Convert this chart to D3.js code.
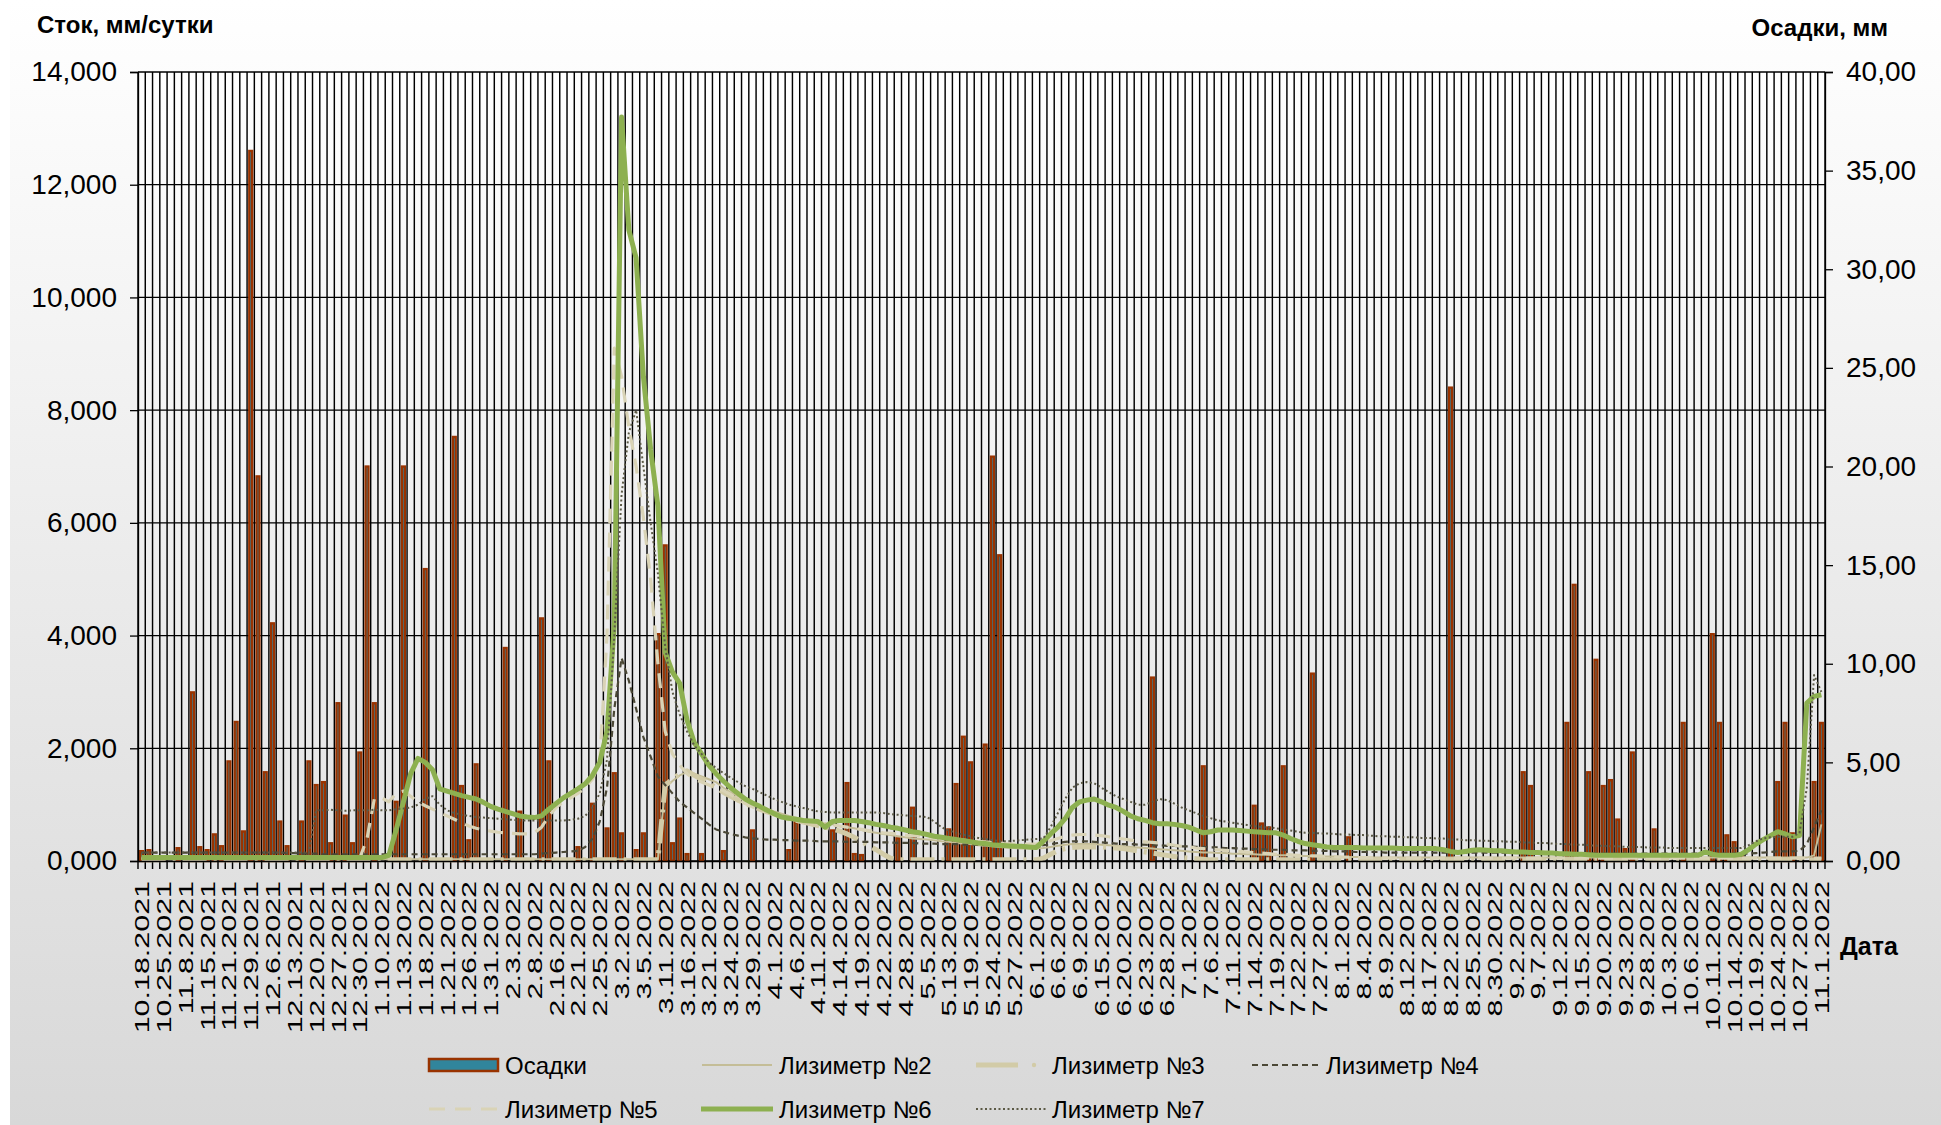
<!DOCTYPE html>
<html><head><meta charset="utf-8">
<script src="https://cdn.jsdelivr.net/npm/d3@7"></script>
<style>
html,body{margin:0;padding:0;background:#fff;}
svg{display:block;}
text{font-family:"Liberation Sans",Arial,sans-serif;fill:#000;}
</style></head><body>
<svg id="chart" width="1941" height="1125"></svg>
<script>
const categories = [
"10.18.2021","10.20.2021","10.22.2021","10.25.2021","10.29.2021","11.3.2021","11.8.2021","11.10.2021","11.12.2021",
"11.15.2021","11.17.2021","11.19.2021","11.21.2021","11.23.2021","11.26.2021","11.29.2021","12.1.2021","12.3.2021",
"12.6.2021","12.8.2021","12.10.2021","12.13.2021","12.15.2021","12.17.2021","12.20.2021","12.22.2021","12.24.2021",
"12.27.2021","12.28.2021","12.29.2021","12.30.2021","1.3.2022","1.6.2022","1.10.2022","1.11.2022","1.12.2022",
"1.13.2022","1.14.2022","1.17.2022","1.18.2022","1.19.2022","1.20.2022","1.21.2022","1.24.2022","1.25.2022",
"1.26.2022","1.27.2022","1.28.2022","1.31.2022","2.1.2022","2.2.2022","2.3.2022","2.4.2022","2.7.2022",
"2.8.2022","2.10.2022","2.14.2022","2.16.2022","2.17.2022","2.18.2022","2.21.2022","2.22.2022","2.24.2022",
"2.25.2022","2.28.2022","3.1.2022","3.2.2022","3.3.2022","3.4.2022","3.5.2022","3.9.2022","3.10.2022",
"3.11.2022","3.14.2022","3.15.2022","3.16.2022","3.17.2022","3.18.2022","3.21.2022","3.22.2022","3.23.2022",
"3.24.2022","3.25.2022","3.28.2022","3.29.2022","3.30.2022","3.31.2022","4.1.2022","4.4.2022","4.5.2022",
"4.6.2022","4.7.2022","4.8.2022","4.11.2022","4.12.2022","4.13.2022","4.14.2022","4.15.2022","4.18.2022",
"4.19.2022","4.20.2022","4.21.2022","4.22.2022","4.25.2022","4.26.2022","4.28.2022","4.29.2022","5.4.2022",
"5.5.2022","5.6.2022","5.11.2022","5.13.2022","5.16.2022","5.17.2022","5.19.2022","5.20.2022","5.23.2022",
"5.24.2022","5.25.2022","5.26.2022","5.27.2022","5.30.2022","5.31.2022","6.1.2022","6.2.2022","6.3.2022",
"6.6.2022","6.7.2022","6.8.2022","6.9.2022","6.10.2022","6.14.2022","6.15.2022","6.16.2022","6.17.2022",
"6.20.2022","6.21.2022","6.22.2022","6.23.2022","6.24.2022","6.27.2022","6.28.2022","6.29.2022","6.30.2022",
"7.1.2022","7.4.2022","7.5.2022","7.6.2022","7.7.2022","7.8.2022","7.11.2022","7.12.2022","7.13.2022",
"7.14.2022","7.15.2022","7.18.2022","7.19.2022","7.20.2022","7.21.2022","7.22.2022","7.25.2022","7.26.2022",
"7.27.2022","7.28.2022","7.29.2022","8.1.2022","8.2.2022","8.3.2022","8.4.2022","8.5.2022","8.8.2022",
"8.9.2022","8.10.2022","8.11.2022","8.12.2022","8.15.2022","8.16.2022","8.17.2022","8.18.2022","8.19.2022",
"8.22.2022","8.23.2022","8.24.2022","8.25.2022","8.26.2022","8.29.2022","8.30.2022","8.31.2022","9.1.2022",
"9.2.2022","9.5.2022","9.6.2022","9.7.2022","9.8.2022","9.9.2022","9.12.2022","9.13.2022","9.14.2022",
"9.15.2022","9.16.2022","9.19.2022","9.20.2022","9.21.2022","9.22.2022","9.23.2022","9.26.2022","9.27.2022",
"9.28.2022","9.29.2022","9.30.2022","10.3.2022","10.4.2022","10.5.2022","10.6.2022","10.7.2022","10.10.2022",
"10.11.2022","10.12.2022","10.13.2022","10.14.2022","10.17.2022","10.18.2022","10.19.2022","10.20.2022","10.21.2022",
"10.24.2022","10.25.2022","10.26.2022","10.27.2022","10.28.2022","10.31.2022","11.1.2022"];

const tickLabels = ["10.18.2021","10.25.2021","11.8.2021","11.15.2021","11.21.2021","11.29.2021","12.6.2021","12.13.2021",
"12.20.2021","12.27.2021","12.30.2021","1.10.2022","1.13.2022","1.18.2022","1.21.2022","1.26.2022","1.31.2022","2.3.2022",
"2.8.2022","2.16.2022","2.21.2022","2.25.2022","3.2.2022","3.5.2022","3.11.2022","3.16.2022","3.21.2022","3.24.2022",
"3.29.2022","4.1.2022","4.6.2022","4.11.2022","4.14.2022","4.19.2022","4.22.2022","4.28.2022","5.5.2022","5.13.2022",
"5.19.2022","5.24.2022","5.27.2022","6.1.2022","6.6.2022","6.9.2022","6.15.2022","6.20.2022","6.23.2022","6.28.2022",
"7.1.2022","7.6.2022","7.11.2022","7.14.2022","7.19.2022","7.22.2022","7.27.2022","8.1.2022","8.4.2022","8.9.2022",
"8.12.2022","8.17.2022","8.22.2022","8.25.2022","8.30.2022","9.2.2022","9.7.2022","9.12.2022","9.15.2022","9.20.2022",
"9.23.2022","9.28.2022","10.3.2022","10.6.2022","10.11.2022","10.14.2022","10.19.2022","10.24.2022","10.27.2022","11.1.2022"];

// Осадки, мм (right axis)
const precip = [
0.5,0.55,0,0,0,0.65,0,8.55,0.7,0.55,
1.35,0.75,5.05,7.05,1.5,36.0,19.5,4.5,12.05,2.0,
0.75,0,2.0,5.05,3.85,4.0,0.9,8.0,2.3,0.9,
5.5,20.0,8.0,0,0,3.0,20.0,0,0,14.8,
0,0,0,21.5,3.8,1.05,4.9,0,0,0,
10.8,0,2.5,0,0,12.3,5.05,0,0,0,
0.7,0,2.9,0,1.65,4.45,1.4,0,0.55,1.4,
0,11.5,16.0,0.9,2.15,0.35,0,0.35,0,0,
0.5,0,0,0,1.55,0,0,0,0,0.55,
1.95,0,0,0,0,1.55,0,3.95,0.35,0.3,
0,0,0,0,1.15,0,2.7,0,0,0,
0,1.6,3.9,6.3,5.0,0,5.9,20.5,15.5,0,
0,0,0,0,0,0,0,0,0,0,
0,0,0,0,0,0,0,0,0,9.3,
0,0,0,0,0,0,4.8,0,0,0,
0,0,0,2.8,1.9,1.7,0,4.8,0,0,
0,9.5,0,0,0,0,1.2,0,0,0,
0,0,0,0,0,0,0,0,0,0,
24.0,0,0,0,0,0,0,0,0,0,
4.5,3.8,0,0,0,0,7.0,14.0,0,4.5,
10.2,3.8,4.1,2.1,0.6,5.5,0,0,1.6,0,
0,0,7.0,0,0,0,11.5,7.0,1.3,0.95,
0.3,0,0,0,0,4.0,7.0,1.4,0,0,
4.0,7.0];

// Сток, мм/сутки (left axis)
const lys2 = [
0.03,0.03,0.03,0.03,0.03,0.03,0.03,0.03,0.03,0.03,
0.03,0.03,0.03,0.03,0.03,0.03,0.03,0.03,0.03,0.03,
0.03,0.03,0.03,0.03,0.03,0.03,0.03,0.03,0.03,0.03,
0.03,0.03,0.03,0.03,0.03,0.03,0.03,0.03,0.03,0.03,
0.03,0.03,0.03,0.03,0.03,0.03,0.03,0.03,0.03,0.03,
0.03,0.03,0.03,0.03,0.03,0.03,0.03,0.03,0.03,0.03,
0.03,0.03,0.03,0.03,0.03,0.03,0.03,0.03,0.03,0.03,
0.03,0.03,1.3,1.42,1.52,1.58,1.55,1.5,1.45,1.4,
1.3,1.22,1.15,1.08,1.02,0.97,0.93,0.88,0.84,0.8,
0.77,0.74,0.71,0.69,0.67,0.65,0.62,0.6,0.58,0.55,
0.52,0.5,0.48,0.46,0.44,0.42,0.4,0.39,0.38,0.37,
0.35,0.34,0.32,0.31,0.3,0.28,0.27,0.26,0.25,0.24,
0.23,0.22,0.22,0.22,0.23,0.25,0.27,0.29,0.3,0.3,
0.3,0.3,0.29,0.28,0.27,0.26,0.25,0.24,0.23,0.22,
0.21,0.2,0.19,0.18,0.17,0.16,0.15,0.15,0.14,0.14,
0.13,0.13,0.12,0.12,0.11,0.11,0.1,0.1,0.1,0.09,
0.09,0.09,0.08,0.08,0.08,0.07,0.07,0.07,0.07,0.06,
0.06,0.06,0.06,0.06,0.06,0.06,0.06,0.06,0.06,0.06,
0.06,0.06,0.06,0.06,0.06,0.06,0.06,0.06,0.06,0.06,
0.06,0.06,0.06,0.06,0.06,0.06,0.06,0.06,0.06,0.06,
0.06,0.06,0.06,0.06,0.06,0.06,0.06,0.06,0.06,0.06,
0.06,0.06,0.06,0.06,0.06,0.06,0.06,0.06,0.06,0.06,
0.06,0.06,0.06,0.06,0.06,0.06,0.06,0.06,0.06,0.06,
0.1,0.65];

const lys3 = [
0.02,0.02,0.02,0.02,0.02,0.02,0.02,0.02,0.02,0.02,
0.02,0.02,0.02,0.02,0.02,0.02,0.02,0.02,0.02,0.02,
0.02,0.02,0.02,0.02,0.02,0.02,0.02,0.02,0.02,0.02,
0.02,0.02,0.02,0.02,0.02,0.02,0.02,0.02,0.02,0.02,
0.02,0.02,0.02,0.02,0.02,0.02,0.02,0.02,0.02,0.02,
0.02,0.02,0.02,0.02,0.02,0.02,0.02,0.02,0.02,0.02,
0.02,0.02,0.02,0.02,0.02,0.02,0.02,0.02,0.02,0.02,
0.02,0.02,1.35,1.45,1.55,1.6,1.52,1.45,1.38,1.3,
1.22,1.15,1.08,1.02,0.97,0.92,0.87,0.83,0.79,0.75,
0.72,0.69,0.66,0.63,0.6,0.57,0.53,0.48,0.42,0.35,
0.27,0.2,0.12,0.05,0.02,0.02,0.02,0.02,0.02,0.02,
0.02,0.02,0.02,0.02,0.02,0.02,0.02,0.02,0.02,0.02,
0.02,0.02,0.02,0.02,0.05,0.12,0.18,0.22,0.24,0.25,
0.25,0.25,0.25,0.24,0.23,0.22,0.2,0.18,0.16,0.14,
0.12,0.1,0.08,0.06,0.05,0.04,0.03,0.02,0.02,0.02,
0.02,0.02,0.02,0.02,0.02,0.02,0.02,0.02,0.02,0.02,
0.02,0.02,0.02,0.02,0.02,0.02,0.02,0.02,0.02,0.02,
0.02,0.02,0.02,0.02,0.02,0.02,0.02,0.02,0.02,0.02,
0.02,0.02,0.02,0.02,0.02,0.02,0.02,0.02,0.02,0.02,
0.02,0.02,0.02,0.02,0.02,0.02,0.02,0.02,0.02,0.02,
0.02,0.02,0.02,0.02,0.02,0.02,0.02,0.02,0.02,0.02,
0.02,0.02,0.02,0.02,0.02,0.02,0.02,0.02,0.02,0.02,
0.02,0.02,0.02,0.02,0.02,0.02,0.02,0.02,0.02,0.02,
0.02,0.02];

const lys4 = [
0.15,0.15,0.15,0.15,0.15,0.15,0.15,0.15,0.15,0.15,
0.15,0.15,0.15,0.15,0.15,0.15,0.15,0.15,0.15,0.15,
0.14,0.14,0.13,0.13,0.13,0.12,0.12,0.12,0.12,0.12,
0.12,0.12,0.12,0.12,0.12,0.12,0.12,0.12,0.12,0.12,
0.12,0.12,0.12,0.12,0.12,0.12,0.12,0.12,0.12,0.12,
0.12,0.12,0.12,0.12,0.12,0.13,0.14,0.15,0.16,0.17,
0.18,0.25,0.4,0.7,1.3,2.7,3.6,3.2,2.7,2.2,
1.85,1.5,1.35,1.2,1.05,0.95,0.85,0.75,0.65,0.56,
0.52,0.48,0.45,0.42,0.4,0.39,0.38,0.38,0.37,0.37,
0.36,0.36,0.36,0.35,0.35,0.35,0.35,0.34,0.34,0.34,
0.34,0.33,0.33,0.33,0.32,0.32,0.32,0.31,0.31,0.31,
0.3,0.3,0.3,0.29,0.29,0.29,0.28,0.28,0.28,0.27,
0.27,0.27,0.27,0.27,0.28,0.3,0.32,0.34,0.35,0.35,
0.35,0.34,0.33,0.32,0.31,0.3,0.3,0.29,0.29,0.28,
0.28,0.27,0.27,0.26,0.26,0.25,0.25,0.24,0.24,0.23,
0.23,0.22,0.22,0.21,0.21,0.2,0.2,0.2,0.19,0.19,
0.19,0.18,0.18,0.18,0.17,0.17,0.17,0.16,0.16,0.16,
0.16,0.15,0.15,0.15,0.15,0.15,0.15,0.15,0.15,0.15,
0.15,0.15,0.15,0.15,0.15,0.15,0.15,0.15,0.15,0.15,
0.14,0.14,0.14,0.14,0.14,0.14,0.14,0.14,0.14,0.14,
0.13,0.13,0.13,0.13,0.13,0.13,0.13,0.13,0.13,0.13,
0.13,0.13,0.13,0.13,0.13,0.13,0.13,0.13,0.13,0.13,
0.13,0.13,0.14,0.15,0.16,0.17,0.17,0.17,0.18,0.3,
0.6,0.9];

const lys5 = [
0.05,0.05,0.05,0.05,0.05,0.05,0.05,0.05,0.05,0.05,
0.05,0.05,0.05,0.05,0.05,0.05,0.05,0.05,0.05,0.05,
0.05,0.05,0.05,0.05,0.05,0.05,0.05,0.05,0.05,0.05,
0.05,0.4,1.1,1.12,1.05,1.2,1.24,1.15,1.05,0.98,
0.92,0.86,0.8,0.74,0.68,0.62,0.58,0.55,0.53,0.51,
0.5,0.49,0.48,0.48,0.5,0.6,0.8,0.95,1.05,1.12,
1.2,1.3,1.45,1.75,4.0,9.1,8.6,7.7,7.0,6.1,
5.0,3.5,2.3,1.9,1.7,1.55,1.45,1.4,1.35,1.3,
1.25,1.18,1.1,1.02,0.96,0.92,0.88,0.84,0.8,0.77,
0.74,0.72,0.7,0.68,0.66,0.64,0.62,0.6,0.58,0.56,
0.54,0.52,0.5,0.49,0.48,0.46,0.45,0.44,0.42,0.41,
0.4,0.39,0.38,0.37,0.36,0.35,0.34,0.33,0.32,0.31,
0.3,0.3,0.3,0.3,0.32,0.36,0.4,0.44,0.46,0.47,
0.47,0.46,0.45,0.43,0.41,0.39,0.37,0.35,0.34,0.33,
0.32,0.3,0.28,0.26,0.25,0.23,0.22,0.21,0.2,0.19,
0.18,0.17,0.16,0.15,0.14,0.13,0.12,0.12,0.11,0.1,
0.1,0.09,0.09,0.08,0.08,0.07,0.07,0.06,0.06,0.06,
0.05,0.05,0.05,0.05,0.05,0.05,0.05,0.05,0.05,0.05,
0.05,0.05,0.05,0.05,0.05,0.05,0.05,0.05,0.05,0.05,
0.05,0.05,0.05,0.05,0.05,0.05,0.05,0.05,0.05,0.05,
0.05,0.05,0.05,0.05,0.05,0.05,0.05,0.05,0.05,0.05,
0.05,0.05,0.05,0.05,0.05,0.05,0.05,0.05,0.05,0.05,
0.05,0.05,0.05,0.05,0.05,0.05,0.05,0.05,0.05,0.05,
0.05,0.05];

const lys6 = [
0.06,0.06,0.06,0.06,0.06,0.06,0.06,0.06,0.06,0.06,
0.06,0.06,0.06,0.06,0.06,0.06,0.06,0.06,0.06,0.06,
0.06,0.06,0.06,0.06,0.06,0.06,0.06,0.06,0.06,0.06,
0.06,0.06,0.06,0.06,0.1,0.55,1.05,1.55,1.82,1.75,
1.62,1.28,1.24,1.2,1.16,1.13,1.1,1.04,0.97,0.92,
0.88,0.84,0.8,0.78,0.77,0.8,0.92,1.02,1.12,1.2,
1.28,1.37,1.52,1.75,2.3,4.2,13.2,11.2,10.7,8.6,
7.3,6.3,3.7,3.35,3.15,2.5,2.1,1.9,1.7,1.55,
1.42,1.3,1.2,1.1,1.03,0.97,0.9,0.84,0.78,0.76,
0.74,0.72,0.71,0.7,0.6,0.7,0.72,0.72,0.72,0.7,
0.68,0.65,0.63,0.6,0.58,0.55,0.52,0.5,0.47,0.44,
0.42,0.4,0.38,0.36,0.34,0.32,0.31,0.29,0.28,0.27,
0.26,0.26,0.25,0.24,0.35,0.48,0.6,0.75,0.95,1.05,
1.08,1.1,1.05,0.99,0.95,0.88,0.8,0.75,0.72,0.68,
0.66,0.66,0.65,0.63,0.6,0.55,0.5,0.52,0.55,0.55,
0.55,0.54,0.53,0.52,0.51,0.5,0.5,0.46,0.4,0.35,
0.31,0.29,0.27,0.25,0.24,0.24,0.24,0.24,0.23,0.23,
0.23,0.23,0.23,0.22,0.22,0.22,0.22,0.22,0.22,0.2,
0.17,0.15,0.17,0.19,0.2,0.19,0.18,0.18,0.17,0.16,
0.16,0.15,0.15,0.14,0.14,0.13,0.13,0.12,0.12,0.11,
0.1,0.1,0.1,0.1,0.1,0.1,0.1,0.1,0.1,0.1,
0.1,0.1,0.1,0.1,0.1,0.16,0.12,0.1,0.1,0.1,
0.12,0.2,0.3,0.38,0.45,0.52,0.48,0.43,0.45,2.8,
2.92,2.95];

const lys7 = [
0.15,0.15,0.15,0.15,0.15,0.15,0.15,0.15,0.15,0.15,
0.15,0.15,0.15,0.15,0.15,0.15,0.15,0.15,0.15,0.15,
0.15,0.15,0.15,0.15,0.9,0.9,0.91,0.9,0.89,0.9,
0.9,0.9,0.91,0.9,0.9,0.92,0.93,0.95,1.0,1.1,
1.15,1.0,0.9,0.85,0.82,0.8,0.78,0.77,0.76,0.75,
0.74,0.73,0.72,0.72,0.72,0.72,0.72,0.72,0.72,0.73,
0.75,0.8,0.95,1.2,1.8,4.0,6.5,7.6,8.0,7.0,
6.0,5.1,3.8,3.0,2.6,2.3,2.05,1.9,1.75,1.65,
1.56,1.48,1.4,1.33,1.28,1.22,1.16,1.1,1.05,1.0,
0.97,0.94,0.91,0.88,0.87,0.86,0.86,0.86,0.86,0.86,
0.86,0.86,0.85,0.83,0.82,0.81,0.8,0.79,0.78,0.7,
0.6,0.54,0.5,0.47,0.44,0.41,0.39,0.37,0.35,0.35,
0.36,0.37,0.38,0.39,0.4,0.6,0.85,1.1,1.3,1.38,
1.4,1.38,1.3,1.22,1.15,1.1,1.05,1.0,1.0,1.05,
1.1,1.08,1.02,0.95,0.9,0.85,0.8,0.76,0.72,0.7,
0.68,0.66,0.64,0.62,0.6,0.6,0.58,0.56,0.54,0.52,
0.5,0.5,0.49,0.49,0.48,0.47,0.47,0.46,0.46,0.45,
0.44,0.44,0.43,0.43,0.42,0.42,0.41,0.41,0.4,0.4,
0.38,0.38,0.37,0.37,0.36,0.36,0.35,0.35,0.34,0.34,
0.33,0.33,0.32,0.32,0.31,0.3,0.3,0.29,0.29,0.28,
0.27,0.27,0.26,0.26,0.25,0.25,0.25,0.24,0.24,0.24,
0.23,0.23,0.23,0.23,0.23,0.23,0.23,0.23,0.23,0.23,
0.23,0.28,0.35,0.4,0.42,0.43,0.43,0.43,0.5,1.3,
3.3,3.0];

const leftTicks = [0,2,4,6,8,10,12,14];
const rightTicks = [0,5,10,15,20,25,30,35,40];
const barName = "Осадки";
const lineNames = ["Лизиметр №2","Лизиметр №3","Лизиметр №4","Лизиметр №5","Лизиметр №6","Лизиметр №7"];
const leftTitle = "Сток, мм/сутки";
const rightTitle = "Осадки, мм";
const xTitle = "Дата";

// ---------- drawing ----------
const W = 1941, H = 1125;
const P = {left:138, right:1825, top:72, bottom:861};
const svg = d3.select("#chart");
const defs = svg.append("defs");
const g1 = defs.append("linearGradient").attr("id","bg").attr("x1",0).attr("y1",0).attr("x2",0).attr("y2",1);
g1.append("stop").attr("offset","0%").attr("stop-color","#ffffff");
g1.append("stop").attr("offset","100%").attr("stop-color","#d8d8d8");
const g2 = defs.append("linearGradient").attr("id","pbg").attr("x1",0).attr("y1",0).attr("x2",0).attr("y2",1);
g2.append("stop").attr("offset","0%").attr("stop-color","#ffffff");
g2.append("stop").attr("offset","100%").attr("stop-color","#e4e4e4");

svg.append("rect").attr("x",0).attr("y",0).attr("width",W).attr("height",H).attr("fill","#ffffff");
svg.append("rect").attr("x",10).attr("y",0).attr("width",W-10).attr("height",H).attr("fill","url(#bg)");
svg.append("rect").attr("x",P.left).attr("y",P.top).attr("width",P.right-P.left).attr("height",P.bottom-P.top).attr("fill","url(#pbg)");

const x = d3.scaleBand().domain(categories).range([P.left, P.right]).padding(0);
const bw = x.bandwidth();
const yL = d3.scaleLinear().domain([0,14]).range([P.bottom, P.top]);
const yR = d3.scaleLinear().domain([0,40]).range([P.bottom, P.top]);
const cx = c => x(c) + bw/2;

// vertical gridlines at category boundaries
const bounds = categories.map(c => x(c)).concat([x(categories[categories.length-1]) + bw]);
svg.append("g").selectAll("line").data(bounds).join("line")
  .attr("x1", d => d).attr("x2", d => d)
  .attr("y1", P.top).attr("y2", P.bottom + 8)
  .attr("stroke", "#000").attr("stroke-width", 1.45);
// horizontal gridlines
svg.append("g").selectAll("line").data(leftTicks).join("line")
  .attr("x1", P.left).attr("x2", P.right)
  .attr("y1", d => yL(d)).attr("y2", d => yL(d))
  .attr("stroke", "#000").attr("stroke-width", 1.3);

// bars
const bars = precip.map((v,i) => ({c: categories[i], v})).filter(d => d.v > 0);
const barW = 2.9;
svg.append("g").selectAll("rect").data(bars).join("rect")
  .attr("x", d => cx(d.c) - barW/2)
  .attr("width", barW)
  .attr("y", d => yR(d.v))
  .attr("height", d => P.bottom - yR(d.v))
  .attr("fill", "#31859C").attr("stroke", "#993300").attr("stroke-width", 2.3);

// lines
const lineStyles = [
  {data: lys2, color:"#C4BD97", w:2,   dash:null},
  {data: lys3, color:"#D2CBA7", w:5,   dash:"24,7,3,7"},
  {data: lys4, color:"#4B4836", w:2.2, dash:"6,4"},
  {data: lys5, color:"#D9D3B6", w:3.2, dash:"15,9"},
  {data: lys6, color:"#8DB050", w:5,   dash:null},
  {data: lys7, color:"#5C5A46", w:2,   dash:"2,2.5"}
];
const lineGen = d3.line().x((d,i) => cx(categories[i])).y(d => yL(d));
const lg = svg.append("g").attr("fill","none").attr("stroke-linejoin","round");
lineStyles.forEach(s => {
  lg.append("path").datum(s.data).attr("d", lineGen)
    .attr("stroke", s.color).attr("stroke-width", s.w)
    .attr("stroke-dasharray", s.dash);
});

// axes
const fmtL = d => d.toFixed(3).replace(".", ",");
const fmtR = d => d.toFixed(2).replace(".", ",");
const axL = svg.append("g").attr("transform", `translate(${P.left},0)`)
  .call(d3.axisLeft(yL).tickValues(leftTicks).tickSize(8).tickPadding(13).tickFormat(fmtL));
const axR = svg.append("g").attr("transform", `translate(${P.right},0)`)
  .call(d3.axisRight(yR).tickValues(rightTicks).tickSize(8).tickPadding(13).tickFormat(fmtR));
[axL, axR].forEach(a => {
  a.select(".domain").attr("stroke","#000").attr("stroke-width",1.3);
  a.selectAll(".tick line").attr("stroke","#000").attr("stroke-width",1.3);
  a.selectAll(".tick text").attr("font-size", 28).attr("font-family", '"Liberation Sans", Arial, sans-serif').attr("fill","#000");
});
const axB = svg.append("g").attr("transform", `translate(0,${P.bottom})`)
  .call(d3.axisBottom(x).tickValues(tickLabels).tickSize(0).tickPadding(0).tickSizeOuter(0));
axB.select(".domain").attr("stroke","#000").attr("stroke-width",1.5);
axB.selectAll(".tick text")
  .attr("font-size", 21).attr("font-family", '"Liberation Sans", Arial, sans-serif').attr("fill","#000")
  .attr("text-anchor","end").attr("x",0).attr("y",0).attr("dy","0.36em")
  .attr("transform","translate(0,20) rotate(-90) scale(1.45,1)");

// titles
svg.append("text").attr("x",37).attr("y",33).attr("font-size",24).attr("font-weight","bold").text(leftTitle);
svg.append("text").attr("x",1888).attr("y",36).attr("text-anchor","end").attr("font-size",24).attr("font-weight","bold").text(rightTitle);
svg.append("text").attr("x",1840).attr("y",955).attr("font-size",25).attr("font-weight","bold").text(xTitle);

// legend
const leg = svg.append("g");
const r1 = 1065, r2 = 1109;
leg.append("rect").attr("x",429).attr("y",r1-6).attr("width",69).attr("height",12)
  .attr("fill","#31859C").attr("stroke","#993300").attr("stroke-width",2.5);
const legItems = [
  {i:0, x1:702, x2:772, y:r1, tx:779},
  {i:1, x1:976, x2:1046, y:r1, tx:1052},
  {i:2, x1:1252, x2:1320, y:r1, tx:1326},
  {i:3, x1:429, x2:498, y:r2, tx:505},
  {i:4, x1:701, x2:773, y:r2, tx:779},
  {i:5, x1:976, x2:1046, y:r2, tx:1052}
];
legItems.forEach(it => {
  const s = lineStyles[it.i];
  if (it.i === 1) {
    leg.append("line").attr("x1",it.x1).attr("x2",it.x1+42).attr("y1",it.y).attr("y2",it.y)
      .attr("stroke",s.color).attr("stroke-width",s.w);
    leg.append("circle").attr("cx",it.x1+58).attr("cy",it.y).attr("r",2.2).attr("fill",s.color);
  } else {
    leg.append("line").attr("x1",it.x1).attr("x2",it.x2).attr("y1",it.y).attr("y2",it.y)
      .attr("stroke",s.color).attr("stroke-width",s.w).attr("stroke-dasharray", it.i===3 ? "16,10" : s.dash);
  }
  leg.append("text").attr("x",it.tx).attr("y",it.y).attr("dy","0.36em").attr("font-size",24).text(lineNames[it.i]);
});
leg.append("text").attr("x",505).attr("y",r1).attr("dy","0.36em").attr("font-size",24).text(barName);
</script>
</body></html>
